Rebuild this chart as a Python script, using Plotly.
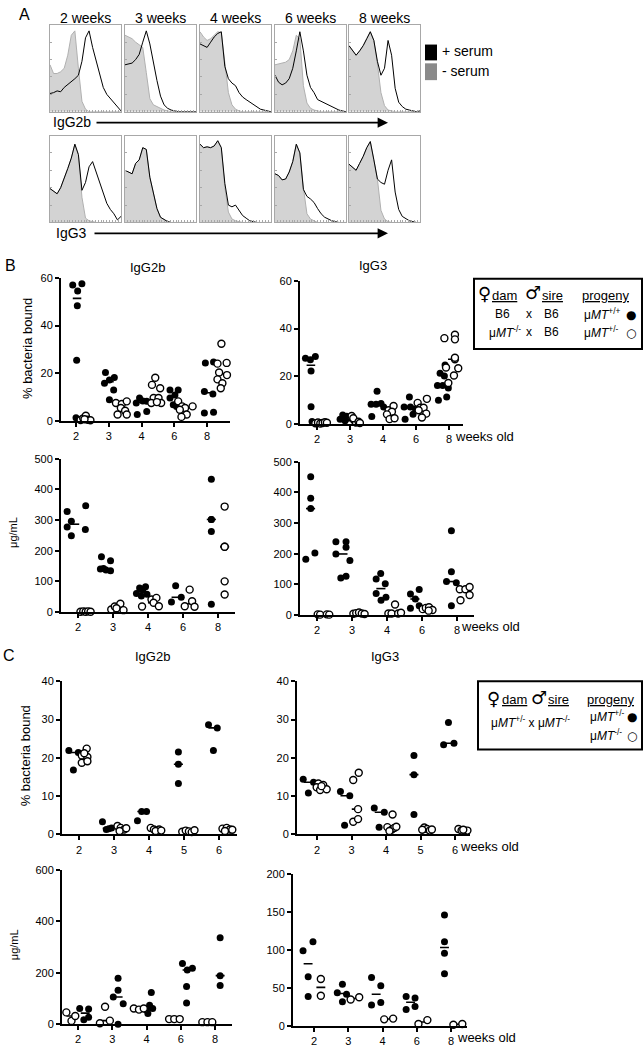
import numpy as np
import plotly.graph_objects as go

W, H = 644, 1050
FONT = "Arial, Liberation Sans, sans-serif"
SYMBOL_FONT = "DejaVu Sans"

# ---------------- panel A: flow histograms (normalised channel, box height = 1)
HIST_X = [0.0, 0.05, 0.1, 0.15, 0.2, 0.25, 0.3, 0.35, 0.4, 0.45, 0.5,
          0.55, 0.6, 0.65, 0.7, 0.75, 0.8, 0.85, 0.9, 0.95, 1.0]
HIST_WEEKS = ["2 weeks", "3 weeks", "4 weeks", "6 weeks", "8 weeks"]

IGG2B_NO_SERUM = [
    [0.54, 0.44, 0.44, 0.46, 0.50, 0.65, 0.88, 0.93, 0.50, 0.12, 0.03, 0, 0, 0, 0, 0, 0, 0, 0, 0, 0],
    [0.88, 0.86, 0.84, 0.80, 0.77, 0.74, 0.45, 0.15, 0.08, 0.06, 0.04, 0.02, 0.01, 0, 0, 0, 0, 0, 0, 0, 0],
    [0.92, 0.86, 0.82, 0.84, 0.88, 0.92, 0.91, 0.55, 0.22, 0.08, 0.03, 0.01, 0, 0, 0, 0, 0, 0, 0, 0, 0],
    [0.54, 0.55, 0.56, 0.57, 0.60, 0.70, 0.88, 0.84, 0.30, 0.10, 0.04, 0.02, 0.01, 0, 0, 0, 0, 0, 0, 0, 0],
    [0.76, 0.70, 0.65, 0.70, 0.76, 0.84, 0.92, 0.82, 0.55, 0.22, 0.07, 0.02, 0.01, 0, 0, 0, 0, 0, 0, 0, 0],
]
IGG2B_SERUM = [
    [0.21, 0.22, 0.24, 0.23, 0.28, 0.31, 0.35, 0.38, 0.42, 0.58, 0.85, 0.93, 0.74, 0.58, 0.42, 0.28, 0.20, 0.15, 0.10, 0.06, 0.01],
    [0.54, 0.55, 0.56, 0.60, 0.66, 0.80, 0.93, 0.78, 0.56, 0.36, 0.18, 0.08, 0.04, 0.02, 0.01, 0, 0, 0, 0, 0, 0],
    [0.78, 0.76, 0.74, 0.80, 0.86, 0.90, 0.92, 0.52, 0.38, 0.33, 0.30, 0.22, 0.17, 0.14, 0.11, 0.08, 0.05, 0.03, 0.02, 0.01, 0],
    [0.42, 0.34, 0.31, 0.33, 0.38, 0.50, 0.70, 0.92, 0.70, 0.42, 0.28, 0.22, 0.14, 0.12, 0.10, 0.08, 0.06, 0.04, 0.02, 0.01, 0],
    [0.76, 0.70, 0.65, 0.70, 0.76, 0.84, 0.92, 0.82, 0.58, 0.42, 0.50, 0.82, 0.65, 0.27, 0.11, 0.06, 0.03, 0.02, 0.01, 0, 0.01],
]
IGG3_NO_SERUM = [
    [0.39, 0.36, 0.33, 0.40, 0.50, 0.62, 0.74, 0.90, 0.78, 0.29, 0.05, 0.02, 0.01, 0, 0, 0, 0, 0, 0, 0, 0],
    [0.60, 0.58, 0.56, 0.68, 0.72, 0.86, 0.84, 0.52, 0.32, 0.16, 0.06, 0.03, 0.01, 0, 0, 0, 0, 0, 0, 0, 0],
    [0.90, 0.86, 0.87, 0.86, 0.88, 0.94, 0.86, 0.40, 0.12, 0.04, 0.02, 0.01, 0, 0, 0, 0, 0, 0, 0, 0, 0],
    [0.56, 0.54, 0.49, 0.50, 0.58, 0.70, 0.90, 0.80, 0.40, 0.10, 0.04, 0.02, 0, 0, 0, 0, 0, 0, 0, 0, 0],
    [0.67, 0.64, 0.60, 0.68, 0.76, 0.86, 0.93, 0.72, 0.50, 0.14, 0.04, 0.01, 0, 0, 0, 0, 0, 0, 0, 0, 0],
]
IGG3_SERUM = [
    [0.39, 0.36, 0.33, 0.40, 0.50, 0.62, 0.74, 0.90, 0.78, 0.37, 0.46, 0.64, 0.70, 0.58, 0.46, 0.32, 0.22, 0.15, 0.10, 0.03, 0.07],
    [0.60, 0.58, 0.56, 0.68, 0.72, 0.86, 0.84, 0.52, 0.32, 0.16, 0.06, 0.03, 0.01, 0, 0, 0, 0, 0, 0, 0, 0],
    [0.90, 0.86, 0.87, 0.86, 0.88, 0.94, 0.86, 0.45, 0.20, 0.18, 0.20, 0.14, 0.08, 0.05, 0.02, 0.01, 0, 0, 0, 0, 0],
    [0.56, 0.54, 0.49, 0.50, 0.58, 0.70, 0.90, 0.80, 0.38, 0.30, 0.27, 0.23, 0.16, 0.10, 0.06, 0.04, 0.02, 0.01, 0, 0, 0],
    [0.67, 0.64, 0.60, 0.68, 0.76, 0.86, 0.93, 0.72, 0.50, 0.46, 0.44, 0.60, 0.72, 0.35, 0.15, 0.07, 0.04, 0.02, 0.01, 0, 0],
]

# ---------------- panel B: B6 x B6 (filled) and uMT-/- x B6 (open)
B_WEEKS = ["2", "3", "4", "6", "8"]

B_IGG2B_PCT_FILLED = [[57.0, 54.5, 57.5, 48.3, 25.5, 1.4], [20.4, 15.9, 17.2, 18.3, 13.1, 9.0],
                      [2.8, 7.6, 9.7, 8.3, 4.1, 8.5], [13.1, 13.1, 11.0, 9.7, 6.9, 6.2],
                      [24.4, 24.8, 12.4, 11.4, 3.4, 3.7]]
B_IGG2B_PCT_FILLED_X = [[-0.10, 0.05, 0.18, 0.04, 0.02, 0.0], [-0.10, -0.13, 0.02, 0.17, 0.15, 0.02],
                        [-0.13, -0.16, -0.06, 0.16, 0.16, 0.04], [-0.13, 0.12, 0.02, -0.13, -0.03, 0.07],
                        [-0.05, 0.20, -0.08, 0.18, -0.08, 0.20]]
B_IGG2B_PCT_OPEN = [[0.5, 1.2, 2.3, 0.6, 0.4, 0.8], [7.6, 7.2, 8.3, 5.5, 4.4, 2.8, 2.8],
                    [15.2, 18.2, 13.8, 9.7, 9.7, 7.6, 7.6, 8.0], [8.3, 6.2, 5.5, 4.8, 2.8, 1.8, 6.2],
                    [32.4, 24.1, 24.4, 20.4, 19.3, 17.5, 15.9, 13.8]]
B_IGG2B_PCT_OPEN_X = [[0.14, 0.22, 0.30, 0.36, 0.44, 0.26], [0.22, 0.40, 0.55, 0.37, 0.50, 0.27, 0.55],
                      [0.32, 0.42, 0.57, 0.37, 0.52, 0.30, 0.60, 0.47], [0.12, 0.24, 0.33, 0.17, 0.38, 0.22, 0.56],
                      [0.44, 0.32, 0.60, 0.37, 0.61, 0.32, 0.47, 0.42]]

B_IGG3_PCT_FILLED = [[27.6, 27.0, 28.3, 22.3, 7.3, 1.1], [2.1, 2.9, 3.3, 1.4, 2.5, 3.8],
                     [13.8, 8.3, 8.3, 8.7, 3.2, 7.2], [11.4, 7.2, 7.2, 4.1, 2.1, 6.5],
                     [24.8, 21.3, 20.2, 16.2, 16.2, 11.4, 10.0, 15.1]]
B_IGG3_PCT_FILLED_X = [[-0.35, -0.20, -0.05, -0.18, -0.18, -0.15], [-0.30, -0.18, -0.10, -0.15, -0.05, -0.22],
                       [-0.18, -0.36, -0.21, -0.06, -0.34, 0.02], [-0.20, -0.36, -0.17, -0.09, -0.33, -0.02],
                       [-0.12, -0.27, -0.14, -0.35, -0.19, -0.07, -0.32, -0.02]]
B_IGG3_PCT_OPEN = [[0.4, 0.7, 0.3, 0.5, 0.8, 0.6], [3.4, 1.7, 0.7, 2.5, 1.0, 0.5],
                   [5.8, 7.6, 5.2, 4.1, 2.1, 2.5], [8.9, 10.6, 6.9, 6.9, 4.4, 2.8, 5.8],
                   [36.0, 37.4, 35.5, 27.2, 27.8, 23.7, 23.4, 20.4, 17.2]]
B_IGG3_PCT_OPEN_X = [[-0.05, 0.03, 0.10, 0.17, 0.24, 0.30], [0.05, 0.12, 0.18, 0.10, 0.26, 0.30],
                     [0.17, 0.32, 0.27, 0.12, 0.20, 0.35], [0.05, 0.33, 0.13, 0.23, 0.31, 0.18, 0.08],
                     [-0.14, 0.18, 0.18, 0.18, 0.18, -0.09, 0.28, 0.15, -0.02]]

B_IGG2B_UG_FILLED = [[328, 347, 296, 277, 269, 249], [180, 167, 140, 137, 135, 142],
                     [78, 82, 72, 60, 52, 58], [86, 48, 33], [433, 302, 302, 263, 25]]
B_IGG2B_UG_FILLED_X = [[-0.31, 0.22, -0.19, -0.31, 0.21, -0.19], [-0.33, -0.07, -0.36, -0.20, -0.07, -0.27],
                       [-0.24, -0.07, -0.15, -0.33, -0.19, -0.03], [-0.21, -0.05, -0.33],
                       [-0.19, -0.19, -0.19, -0.19, -0.19]]
B_IGG2B_UG_OPEN = [[1, 2, 1, 2, 1], [8, 18, 27, 12, 6], [41, 46, 30, 19, 18], [73, 35, 19, 17],
                   [344, 213, 213, 100, 57]]
B_IGG2B_UG_OPEN_X = [[0.07, 0.15, 0.22, 0.29, 0.36], [-0.05, 0.05, 0.21, 0.10, 0.30],
                     [0.10, 0.24, 0.16, 0.31, -0.17], [0.19, 0.26, 0.05, 0.33], [0.19, 0.19, 0.19, 0.19, 0.19]]

B_IGG3_UG_FILLED = [[451, 381, 347, 182, 202], [239, 239, 199, 221, 178, 121, 126],
                    [117, 135, 102, 70, 48, 58], [68, 83, 52, 22, 30], [275, 141, 109, 105, 30]]
B_IGG3_UG_FILLED_X = [[-0.18, -0.18, -0.18, -0.32, -0.06], [-0.46, -0.17, -0.46, -0.17, -0.06, -0.32, -0.17],
                      [-0.31, -0.18, -0.05, -0.31, -0.17, -0.03], [-0.33, -0.08, -0.19, -0.33, -0.08],
                      [-0.16, -0.16, -0.30, -0.02, -0.16]]
B_IGG3_UG_OPEN = [[2, 1, 2, 1], [4, 6, 8, 5, 3], [34, 5, 5, 5, 7], [19, 23, 25, 16, 14],
                  [84, 84, 91, 65, 48]]
B_IGG3_UG_OPEN_X = [[0.02, 0.09, 0.28, 0.35], [0.04, 0.12, 0.20, 0.28, 0.36], [0.23, 0.04, 0.13, 0.32, 0.40],
                    [0.02, 0.11, 0.20, 0.30, 0.19], [0.08, 0.24, 0.36, 0.36, 0.10]]

# ---------------- panel C: uMT+/- x uMT-/- litters
C_WEEKS_PCT = ["2", "3", "4", "5", "6"]
C_WEEKS_UG = ["2", "3", "4", "6", "8"]

C_IGG2B_PCT_FILLED = [[21.9, 21.4, 16.8], [3.3, 1.3, 1.7, 1.5], [3.6, 6.0, 6.0], [21.5, 18.3, 13.3],
                      [28.6, 27.8, 21.9]]
C_IGG2B_PCT_FILLED_X = [[-0.29, -0.02, -0.16], [-0.33, -0.22, -0.07, -0.15], [-0.33, -0.21, -0.07],
                        [-0.16, -0.16, -0.16], [-0.30, -0.05, -0.16]]
C_IGG2B_PCT_OPEN = [[20.6, 22.4, 20.2, 18.7, 19.1, 21.2], [2.2, 1.7, 1.3, 0.9, 1.6], [1.7, 1.3, 1.3, 0.9, 1.0],
                    [0.7, 1.0, 0.8, 0.6, 1.1], [1.5, 1.7, 1.3, 0.9, 1.2]]
C_IGG2B_PCT_OPEN_X = [[0.08, 0.22, 0.24, 0.08, 0.24, 0.15], [0.10, 0.19, 0.29, 0.16, 0.35],
                      [0.05, 0.14, 0.29, 0.19, 0.35], [-0.05, 0.05, 0.14, 0.22, 0.30], [0.10, 0.22, 0.31, 0.17, 0.38]]

C_IGG3_PCT_FILLED = [[14.4, 10.8, 13.6], [11.2, 10.1, 2.4], [6.9, 5.8, 1.9], [20.6, 15.6, 5.2],
                     [29.2, 23.4, 23.8]]
C_IGG3_PCT_FILLED_X = [[-0.40, -0.25, -0.10], [-0.32, -0.05, -0.20], [-0.34, -0.05, -0.20],
                       [-0.19, -0.19, -0.19], [-0.19, -0.33, -0.03]]
C_IGG3_PCT_OPEN = [[13.3, 12.3, 12.9, 11.6, 11.8, 12.6], [14.2, 16.1, 6.6, 3.3, 4.0], [5.2, 1.9, 1.3, 1.7, 0.9, 2.0],
                   [1.8, 1.4, 1.2, 1.0, 1.3], [1.4, 1.0, 1.0, 1.0, 1.2]]
C_IGG3_PCT_OPEN_X = [[0.04, -0.01, 0.18, 0.09, 0.28, 0.13], [0.05, 0.21, 0.19, 0.05, 0.19],
                     [0.19, 0.04, 0.17, 0.24, 0.10, 0.30], [0.11, 0.19, 0.05, 0.27, 0.33], [0.10, 0.19, 0.29, 0.36, 0.24]]

C_IGG2B_UG_FILLED = [[61, 59, 17, 27], [179, 132, 106, 80, 0], [42, 74, 61, 123, 55],
                     [236, 218, 211, 147, 83], [336, 189, 151]]
C_IGG2B_UG_FILLED_X = [[0.05, 0.31, 0.17, 0.31], [0.17, 0.17, 0.03, 0.32, 0.17], [0.04, 0.09, 0.18, 0.14, 0.0],
                       [0.05, 0.34, 0.19, 0.17, 0.17], [0.15, 0.15, 0.15]]
C_IGG2B_UG_OPEN = [[46, 13, 32], [4, 68, 14], [61, 57, 61], [20, 20, 20], [8, 8, 8]]
C_IGG2B_UG_OPEN_X = [[-0.34, -0.19, -0.08], [-0.36, -0.21, -0.07], [-0.37, -0.22, -0.08],
                     [-0.34, -0.19, -0.03], [-0.37, -0.22, -0.08]]

C_IGG3_UG_FILLED = [[99, 111, 65, 39], [44, 55, 42, 32], [64, 53, 28, 31], [39, 37, 22, 26],
                    [146, 111, 96, 69]]
C_IGG3_UG_FILLED_X = [[-0.32, -0.03, -0.17, -0.17], [-0.32, -0.17, -0.05, -0.17], [-0.32, -0.05, -0.32, -0.05],
                      [-0.31, -0.05, -0.31, -0.05], [-0.19, -0.19, -0.19, -0.19]]
C_IGG3_UG_OPEN = [[62, 40], [35, 38], [9, 10], [3, 8], [2, 3]]
C_IGG3_UG_OPEN_X = [[0.20, 0.20], [0.07, 0.32], [0.05, 0.31], [0.05, 0.31], [0.07, 0.33]]


def px(x):
    return x / W


def py(y):
    return 1 - y / H


fig = go.Figure()
layout = dict(width=W, height=H, margin=dict(l=0, r=0, t=0, b=0),
              paper_bgcolor="white", plot_bgcolor="rgba(0,0,0,0)",
              showlegend=False, font=dict(family=FONT, color="black"))
annotations = []
shapes = []


def note(text, x, y, size=12, xanchor="center", yanchor="middle", angle=0, family=FONT):
    annotations.append(dict(text=text, x=px(x), y=py(y), xref="paper", yref="paper",
                            showarrow=False, xanchor=xanchor, yanchor=yanchor, textangle=angle,
                            font=dict(size=size, family=family, color="black")))


def axis_ids(n):
    s = "" if n == 1 else str(n)
    return "xaxis" + s, "yaxis" + s, "x" + s, "y" + s


n = 0

# ---------------- panel A
HIST_COLS = [(50, 121), (125, 196), (200, 271), (275, 346), (349, 420)]
HIST_ROWS = [(19, 107), (131, 219)]
for r, (minus, plus) in enumerate([(IGG2B_NO_SERUM, IGG2B_SERUM), (IGG3_NO_SERUM, IGG3_SERUM)]):
    top, bot = HIST_ROWS[r]
    for c, (x0, x1) in enumerate(HIST_COLS):
        n += 1
        xa, ya, xr, yr = axis_ids(n)
        common = dict(showline=True, mirror=True, linecolor="#a8a8a8", linewidth=1, ticks="inside",
                      ticklen=2, tickcolor="#a8a8a8", showticklabels=False, showgrid=False,
                      zeroline=False, fixedrange=True)
        layout[xa] = dict(domain=[px(x0), px(x1)], range=[0, 1], anchor=yr, dtick=0.04, **common)
        layout[ya] = dict(domain=[py(bot), py(top)], range=[0, 1], anchor=xr, dtick=0.2, **common)
        fig.add_trace(go.Scatter(x=HIST_X, y=minus[c], xaxis=xr, yaxis=yr, mode="lines",
                                 fill="tozeroy", fillcolor="#d3d3d3",
                                 line=dict(color="#b0b0b0", width=1), hoverinfo="skip"))
        fig.add_trace(go.Scatter(x=HIST_X, y=plus[c], xaxis=xr, yaxis=yr, mode="lines",
                                 line=dict(color="black", width=1), hoverinfo="skip"))
        if r == 0:
            note(HIST_WEEKS[c], (x0 + x1) / 2, 12, size=14)

note("A", 17, 9, size=16, xanchor="left")
note("IgG2b", 51, 117, size=14, xanchor="left")
note("IgG3", 54, 230, size=14, xanchor="left")
for yy, x_from in [(118, 95), (230, 93)]:
    annotations.append(dict(x=px(388), y=py(yy), xref="paper", yref="paper", text="",
                            showarrow=True, ax=-(388 - x_from), ay=0, arrowhead=2,
                            arrowsize=1.3, arrowwidth=1.6, arrowcolor="black"))
shapes.append(dict(type="rect", xref="paper", yref="paper", x0=px(425), x1=px(437),
                   y0=py(55), y1=py(39), fillcolor="black", line=dict(width=0)))
shapes.append(dict(type="rect", xref="paper", yref="paper", x0=px(425), x1=px(437),
                   y0=py(75), y1=py(58), fillcolor="#8a8a8a", line=dict(width=0)))
note("+ serum", 440, 46, size=14, xanchor="left")
note("- serum", 440, 66, size=14, xanchor="left")

# ---------------- panels B and C: dot plots
SCATTER = [
    (B_IGG2B_PCT_FILLED, B_IGG2B_PCT_FILLED_X, B_IGG2B_PCT_OPEN, B_IGG2B_PCT_OPEN_X, B_WEEKS,
     61, 230, 76, 32.75, 420, 275, 60, 20),
    (B_IGG3_PCT_FILLED, B_IGG3_PCT_FILLED_X, B_IGG3_PCT_OPEN, B_IGG3_PCT_OPEN_X, B_WEEKS,
     300, 463, 317, 33.0, 423, 278, 60, 20),
    (B_IGG2B_UG_FILLED, B_IGG2B_UG_FILLED_X, B_IGG2B_UG_OPEN, B_IGG2B_UG_OPEN_X, B_WEEKS,
     61, 235, 78, 35.0, 613, 458, 500, 100),
    (B_IGG3_UG_FILLED, B_IGG3_UG_FILLED_X, B_IGG3_UG_OPEN, B_IGG3_UG_OPEN_X, B_WEEKS,
     300, 474, 317, 35.0, 616, 461, 500, 100),
    (C_IGG2B_PCT_FILLED, C_IGG2B_PCT_FILLED_X, C_IGG2B_PCT_OPEN, C_IGG2B_PCT_OPEN_X, C_WEEKS_PCT,
     62, 237, 79, 35.0, 838, 683, 40, 10),
    (C_IGG3_PCT_FILLED, C_IGG3_PCT_FILLED_X, C_IGG3_PCT_OPEN, C_IGG3_PCT_OPEN_X, C_WEEKS_PCT,
     297, 470, 317, 34.5, 838, 683, 40, 10),
    (C_IGG2B_UG_FILLED, C_IGG2B_UG_FILLED_X, C_IGG2B_UG_OPEN, C_IGG2B_UG_OPEN_X, C_WEEKS_UG,
     62, 232, 78, 34.25, 1030, 874, 600, 200),
    (C_IGG3_UG_FILLED, C_IGG3_UG_FILLED_X, C_IGG3_UG_OPEN, C_IGG3_UG_OPEN_X, C_WEEKS_UG,
     293, 467, 314, 34.25, 1032, 878, 200, 50),
]

for (fy, fx, oy, ox, weeks, x0, x1, c0, sp, ybot, ytop, ymax, dtick) in SCATTER:
    n += 1
    xa, ya, xr, yr = axis_ids(n)
    axstyle = dict(showline=True, linewidth=2, linecolor="black", ticks="outside", ticklen=4,
                   tickwidth=2, tickcolor="black", showgrid=False, zeroline=False,
                   tickfont=dict(size=11, family=FONT, color="black"), fixedrange=True)
    layout[xa] = dict(domain=[px(x0), px(x1)], range=[(x0 - c0) / sp, (x1 - c0) / sp], anchor=yr,
                      tickmode="array", tickvals=list(range(len(weeks))), ticktext=weeks, **axstyle)
    layout[ya] = dict(domain=[py(ybot), py(ytop)], range=[0, ymax], anchor=xr, dtick=dtick, **axstyle)

    for groups, offs, is_open in [(fy, fx, False), (oy, ox, True)]:
        xs, ys = [], []
        for i, (vals, dx) in enumerate(zip(groups, offs)):
            gx = [i + d for d in dx]
            xs += gx
            ys += vals
            med = float(np.median(vals))
            cx = float(np.mean(gx))
            fig.add_trace(go.Scatter(x=[cx - 0.13, cx + 0.13], y=[med, med], xaxis=xr, yaxis=yr,
                                     mode="lines", line=dict(color="black", width=1.6),
                                     cliponaxis=False, hoverinfo="skip"))
        marker = dict(size=7, color="white" if is_open else "black",
                      line=dict(color="black", width=1.4 if is_open else 0))
        fig.add_trace(go.Scatter(x=xs, y=ys, xaxis=xr, yaxis=yr, mode="markers", marker=marker,
                                 cliponaxis=False))

# panel labels, titles, axis titles
note("B", 3, 262, size=16, xanchor="left")
note("C", 1, 657, size=16, xanchor="left")
note("IgG2b", 147, 265, size=13)
note("IgG3", 373, 262, size=13)
note("IgG2b", 152, 658, size=13)
note("IgG3", 385, 658, size=13)
note("% bacteria bound", 27, 347, size=13, angle=-90)
note("% bacteria bound", 25, 758, size=13, angle=-90)
note("μg/mL", 13, 533, size=11, angle=-90)
note("μg/mL", 14, 950, size=11, angle=-90)
note("weeks old", 453, 435, size=13, xanchor="left")
note("weeks old", 459, 628, size=13, xanchor="left")
note("weeks old", 458, 850, size=13, xanchor="left")
note("weeks old", 455, 1043, size=13, xanchor="left")

# legend B
shapes.append(dict(type="rect", xref="paper", yref="paper", x0=px(474), x1=px(642),
                   y0=py(347), y1=py(276), line=dict(color="black", width=2)))
note("♀", 484, 291, size=18, family=SYMBOL_FONT)
note("<u>dam</u>", 490, 293, size=13, xanchor="left")
note("♂", 533, 290, size=18, family=SYMBOL_FONT)
note("<u>sire</u>", 540, 293, size=13, xanchor="left")
note("<u>progeny</u>", 580, 293, size=13, xanchor="left")
note("B6", 503, 312, size=12)
note("x", 529, 312, size=12)
note("B6", 551, 312, size=12)
note("μ<i>MT</i><sup>+/+</sup>", 582, 312, size=12, xanchor="left")
note("●", 631, 313, size=12, family=SYMBOL_FONT)
note("μ<i>MT</i><sup>-/-</sup>", 487, 330, size=12, xanchor="left")
note("x", 529, 330, size=12)
note("B6", 551, 330, size=12)
note("μ<i>MT</i><sup>+/-</sup>", 582, 330, size=12, xanchor="left")
note("○", 631, 331, size=12, family=SYMBOL_FONT)

# legend C
shapes.append(dict(type="rect", xref="paper", yref="paper", x0=px(478), x1=px(642),
                   y0=py(752), y1=py(683), line=dict(color="black", width=2)))
note("♀", 494, 700, size=18, family=SYMBOL_FONT)
note("<u>dam</u>", 500, 702, size=13, xanchor="left")
note("♂", 539, 699, size=18, family=SYMBOL_FONT)
note("<u>sire</u>", 546, 702, size=13, xanchor="left")
note("<u>progeny</u>", 585, 702, size=13, xanchor="left")
note("μ<i>MT</i><sup>+/-</sup> x μ<i>MT</i><sup>-/-</sup>", 489, 724, size=12, xanchor="left")
note("μ<i>MT</i><sup>+/-</sup>", 588, 718, size=12, xanchor="left")
note("●", 632, 719, size=12, family=SYMBOL_FONT)
note("μ<i>MT</i><sup>-/-</sup>", 588, 737, size=12, xanchor="left")
note("○", 632, 738, size=12, family=SYMBOL_FONT)

layout["annotations"] = annotations
layout["shapes"] = shapes
fig.update_layout(**layout)
# page body has a default 8px margin; drop it so the figure sits at the window origin
fig.write_html("out.html", config={"displayModeBar": False},
               post_script="document.body.style.margin='0px';")
